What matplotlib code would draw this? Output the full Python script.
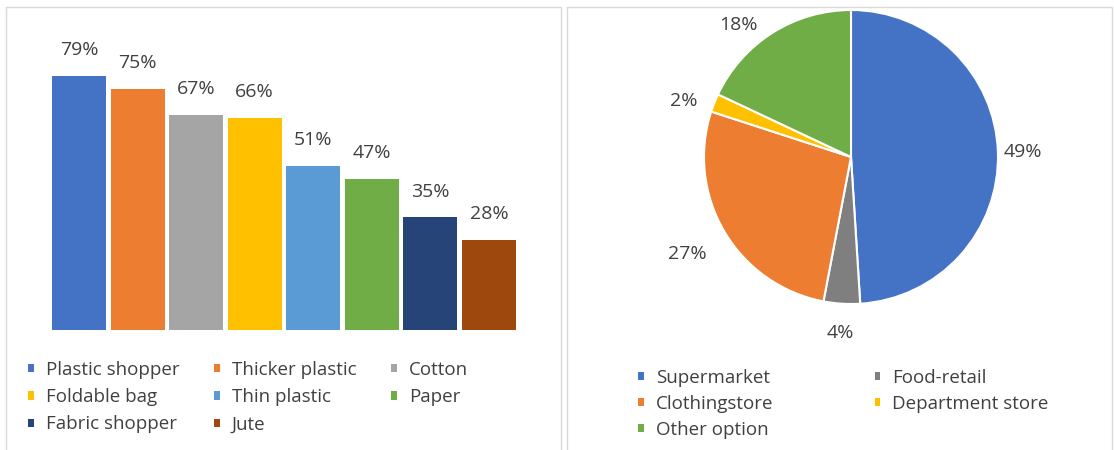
import numpy as np
import matplotlib.pyplot as plt
from matplotlib.patches import Rectangle

plt.rcParams['font.family'] = ['Open Sans', 'DejaVu Sans']
text_color = '#404040'

# bag types preferred
bag_types = ['Plastic shopper', 'Thicker plastic', 'Cotton', 'Foldable bag',
             'Thin plastic', 'Paper', 'Fabric shopper', 'Jute']
bag_share = [79, 75, 67, 66, 51, 47, 35, 28]
bag_colors = ['#4472C4', '#ED7D31', '#A5A5A5', '#FFC000',
              '#5B9BD5', '#70AD47', '#264478', '#9E480E']

# where the bags are bought
shops = ['Supermarket', 'Food-retail', 'Clothingstore', 'Department store', 'Other option']
shop_share = [49, 4, 27, 2, 18]
shop_colors = ['#4472C4', '#7F7F7F', '#ED7D31', '#FFC000', '#70AD47']

W, H = 1114, 450
fig = plt.figure(figsize=(W / 100, H / 100), dpi=100)

# panel frames
for x0, x1 in [(6, 561), (567, 1112)]:
    fig.add_artist(Rectangle((x0 / W, -0.1), (x1 - x0) / W, (H - 7) / H + 0.1,
                             transform=fig.transFigure, fill=False,
                             edgecolor='#D9D9D9', linewidth=1))

# ---- bar chart ----
ax = fig.add_axes([52 / W, 120 / H, 464 / W, 321.5 / H])
w = 0.923
xs = range(len(bag_types))
bars = ax.bar(xs, bag_share, width=w, color=bag_colors)
ax.set_xlim(-w / 2, len(bag_types) - 1 + w / 2)
ax.set_ylim(0, 100)
ax.axis('off')
for b, v in zip(bars, bag_share):
    ax.annotate(f'{v}%', (b.get_x() + b.get_width() / 2, v), xytext=(0, 15),
                textcoords='offset points', ha='center', va='baseline',
                fontsize=14, color=text_color)

order = [0, 3, 6, 1, 4, 7, 2, 5]
leg = ax.legend([bars[i] for i in order], [bag_types[i] for i in order],
                ncol=3, loc='upper left', bbox_to_anchor=(28 / W, 1 - 361 / H),
                bbox_transform=fig.transFigure, frameon=False, fontsize=13.5,
                handlelength=0.3, handleheight=0.3, handletextpad=0.65,
                columnspacing=1.85, labelspacing=0.49, borderpad=0, borderaxespad=0)
for t in leg.get_texts():
    t.set_color(text_color)

# ---- pie chart ----
R = 147
cx, cy = 851, 157
pax = fig.add_axes([(cx - 1.5 * R) / W, (H - cy - 1.5 * R) / H, 3 * R / W, 3 * R / H])
wedges, _ = pax.pie(shop_share, colors=shop_colors, startangle=90,
                    counterclock=False, radius=1,
                    wedgeprops=dict(edgecolor='white', linewidth=1.5))
pax.set_xlim(-1.5, 1.5)
pax.set_ylim(-1.5, 1.5)
pax.axis('off')

# percentage labels sit just outside each slice
label_dist = [1.17, 1.2, 1.29, 1.2, 1.18]
label_shift = [0, 0, 0, 3, 8]
for wd, v, d, s in zip(wedges, shop_share, label_dist, label_shift):
    ang = np.deg2rad((wd.theta1 + wd.theta2) / 2 + s)
    pax.text(d * np.cos(ang), d * np.sin(ang), f'{v}%', ha='center', va='center',
             fontsize=14, color=text_color)

order = [0, 2, 4, 1, 3]
leg2 = pax.legend([wedges[i] for i in order], [shops[i] for i in order],
                  ncol=2, loc='upper left', bbox_to_anchor=(638 / W, 1 - 369 / H),
                  bbox_transform=fig.transFigure, frameon=False, fontsize=13.5,
                  handlelength=0.3, handleheight=0.3, handletextpad=0.65,
                  columnspacing=5.4, labelspacing=0.42, borderpad=0, borderaxespad=0)
for t in leg2.get_texts():
    t.set_color(text_color)
for p in leg2.get_patches():
    p.set_edgecolor('none')

fig.savefig('out.png', dpi=100, facecolor='white')
